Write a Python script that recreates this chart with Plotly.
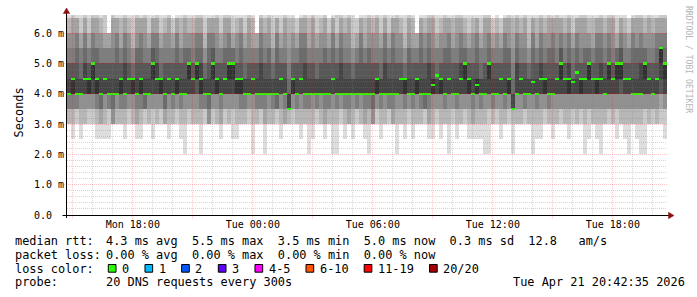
import math
import plotly.graph_objects as go
from datetime import datetime, timedelta

# ---------------- data ----------------
START = datetime(2026, 4, 20, 14, 42, 35)
END = datetime(2026, 4, 21, 20, 42, 35)
STEP_MIN = 12          # one column = 12 minutes
Y_MAX = 6.6            # ms, upper limit of graph

# median rtt per column (ms)
median_ms = [
    4.0, 4.5, 4.0, 4.0, 4.5, 4.5, 5.0, 4.5, 4.0, 4.5,
    4.0, 4.0, 4.0, 4.5, 4.0, 4.5, 4.5, 4.0, 4.5, 4.0,
    4.0, 5.0, 4.5, 4.5, 4.0, 4.5, 4.0, 4.5, 4.0, 4.0,
    5.0, 4.5, 5.0, 4.5, 4.0, 4.0, 5.0, 4.5, 4.0, 4.5,
    5.0, 5.0, 4.5, 4.5, 4.0, 4.0, 4.5, 4.0, 4.0, 4.0,
    4.0, 4.0, 4.0, 4.5, 4.0, 3.5, 4.5, 4.0, 4.5, 4.0,
    4.0, 4.0, 4.0, 4.0, 4.0, 4.0, 4.5, 4.0, 4.0, 4.0,
    4.0, 4.0, 4.0, 4.0, 4.0, 4.0, 4.0, 4.5, 4.0, 4.0,
    4.0, 4.0, 4.0, 4.5, 4.5, 4.0, 4.0, 4.5, 4.0, 4.0,
    4.0, 4.3, 4.6, 4.5, 4.0, 4.5, 4.0, 4.0, 4.5, 5.0,
    4.5, 4.0, 4.3, 4.0, 4.0, 5.0, 4.0, 4.0, 4.5, 4.0,
    4.5, 3.5, 4.0, 4.5, 4.0, 4.0, 4.4, 4.0, 4.5, 4.5,
    4.0, 4.0, 4.5, 5.0, 4.5, 4.5, 4.4, 4.7, 4.5, 4.5,
    5.0, 4.5, 4.5, 4.5, 4.0, 5.0, 4.5, 5.0, 5.0, 4.5,
    4.5, 4.0, 4.0, 4.0, 5.0, 4.5, 4.0, 4.5, 5.5, 5.0,
]

# 20 ping rtts per column, one character per ping (see PING_CODE)
PING_CODE = {'0': 2.0, '1': 2.5, '2': 3.0, '3': 3.5, '4': 4.0, '5': 4.5,
             '6': 5.0, '7': 5.5, '8': 6.0, '9': 6.5, 'x': 7.0}
pings = [
    "2223334444456678899x", "122333444455667899xx", "2233334444456788999x", "1223344444455677889x", "222334444556678899xx",
    "2233344444556677889x", "223334444566678899xx", "122333444455677899xx", "1222333444456678899x", "122334444555667788xx",
    "12333344444566778888", "222223344445667899xx", "2223344444456788999x", "2223334444556677899x", "122333444446678899xx",
    "2233344445556678899x", "2223344444555667789x", "122233444445677899xx", "1223334444556788999x", "223333344445667899xx",
    "2223344444456677889x", "1233344445667788999x", "222334444556678899xx", "2233344444555677889x", "2222333444456678899x",
    "122334444555667899xx", "22233344444566778899", "2233344444556788999x", "1223334444456677899x", "022334444445677899xx",
    "2233344445666778899x", "2223344445556678899x", "222334445566678899xx", "022333444456678899xx", "2233334444455667789x",
    "2222233444456788999x", "2233344445667788999x", "222334444455667899xx", "1222334444456677889x", "223334444555677899xx",
    "222334444566678899xx", "1233344445666777889x", "1223344444556678899x", "2223334444556788999x", "2223334444455677889x",
    "223334444445667899xx", "0223344445556677899x", "22233344444566778888", "223333444446678899xx", "0222334444456678899x",
    "222334444445677899xx", "2223334444455667789x", "2233333444456788999x", "1223344445556677889x", "222233444445667899xx",
    "2223333333344567899x", "2233344444556678899x", "22233344444566778899", "1223344445556788999x", "222333444446678899xx",
    "0223334444456677899x", "122334444445667899xx", "2233334444455677889x", "2223344444456678899x", "122233444445677899xx",
    "22233344444566778899", "0223344445556788999x", "022333444445667788xx", "223334444446678899xx", "1223334444456678899x",
    "222233444445667899xx", "1223344444455667789x", "22333344444566778899", "2223344444456788999x", "1222334444456677899x",
    "022333444445677899xx", "2222233444456678899x", "223334444455667899xx", "1223334444455677889x", "222334444446678899xx",
    "2233334444456677889x", "2222334444456788999x", "022334444445667899xx", "2223344445556678899x", "1223334444555667789x",
    "223334444445677899xx", "1223334444456677899x", "22233444445566778888", "2223334444456788999x", "2233333444456678899x",
    "122233444446678899xx", "122334444455667899xx", "2233344445555677889x", "1223344444556678899x", "222333444445677899xx",
    "0223344445556788999x", "2233344444456677899x", "122333444445667899xx", "222334444556678899xx", "2233344445666778899x",
    "1223344444556677889x", "1222334444456678899x", "1223344444556788999x", "1223334444455677889x", "022334444445667899xx",
    "023334444566678899xx", "22233344444566778899", "2233344444456678899x", "12233444455566778899", "2223334444456788999x",
    "223334444455677899xx", "0223333333344567899x", "222334444446678899xx", "2223344445556678899x", "223333444445667899xx",
    "2223344444455667789x", "0223344445556788999x", "1223334444456677899x", "122334444556678899xx", "2233344444556678899x",
    "222333444445677899xx", "1223344444456788999x", "222334444555667899xx", "2233344445667788999x", "2223344445556678899x",
    "122334444456678899xx", "2233344445555677889x", "2223344445556788999x", "223334444455667899xx", "022334444555677899xx",
    "1233344445666778899x", "2223344445556677899x", "1223344444556788999x", "022334444556678899xx", "2223344444456678899x",
    "223334444566678899xx", "222334444555667899xx", "1233344445666777889x", "2223344455667788999x", "1223344445556678899x",
    "02233444455566778899", "2223344444456788999x", "122334444445677899xx", "022334444446678899xx", "0233344445666778899x",
    "222334444555667899xx", "2233344444456678899x", "2223344445556788999x", "223344445677778899xx", "123334444566678899xx",
]

y_tick_vals = [0, 1, 2, 3, 4, 5, 6]
y_tick_text = ["0.0  ", "1.0 m", "2.0 m", "3.0 m", "4.0 m", "5.0 m", "6.0 m"]

legend_rtt = ["median rtt:", "4.3 ms avg  5.5 ms max  3.5 ms min  5.0 ms now  0.3 ms sd  12.8   am/s"]
legend_loss = ["packet loss:", "0.00 % avg  0.00 % max  0.00 % min  0.00 % now"]
loss_labels = ["0", "1", "2", "3", "4-5", "6-10", "11-19", "20/20"]
loss_colors = ["#26ff00", "#00b8ff", "#0059ff", "#5e00ff", "#ff00ff", "#ff5500", "#ff0000", "#a10000"]
probe_text = ["probe:", "20 DNS requests every 300s"]
stamp_text = "Tue Apr 21 20:42:35 2026"
credit_text = "RRDTOOL / TOBI OETIKER"
y_title = "Seconds"

# ---------------- geometry (pixels) ----------------
W, H = 697, 297
PL, PR, PT, PB = 67, 667, 15, 215
MONO = "DejaVu Sans Mono"
CW = 7.17  # legend char advance in px


def px_x(px):
    return (px - PL) / (PR - PL)


def px_y(py):
    return (PB - py) / (PB - PT)


def snap(p):
    return math.floor(p) + 0.5


assert len(pings) == len(median_ms)
cols = []
for s in pings:
    assert len(s) == 20, s
    cols.append(sorted(PING_CODE[c] for c in s))

n = len(cols)
times = [START + timedelta(minutes=STEP_MIN * i + STEP_MIN / 2) for i in range(n)]
bar_w = STEP_MIN * 60 * 1000
span_s = (END - START).total_seconds()

fig = go.Figure()

# smoke: layer k spans ping k .. ping 21-k, darker towards the middle
half = 10
for k in range(1, half + 1):
    lo = [c[k - 1] for c in cols]
    hi = [c[20 - k] for c in cols]
    g = int(190 / half * (half - k)) + 50
    fig.add_trace(go.Bar(
        x=times, y=[h - l for h, l in zip(hi, lo)], base=lo, width=bar_w,
        marker=dict(color=f"rgb({g},{g},{g})", line=dict(width=0)),
        hoverinfo="skip", showlegend=False))

# median, coloured by loss (0 loss -> green)
mh = 0.075
fig.add_trace(go.Bar(
    x=times, y=[mh] * n, base=[m - mh / 2 for m in median_ms], width=bar_w,
    marker=dict(color=loss_colors[0], line=dict(width=0)),
    hoverinfo="skip", showlegend=False))

shapes = []
DOT = "1px,1px"
MINOR = "rgba(128,128,128,0.32)"
MAJOR = "rgba(255,0,0,0.22)"

# vertical grid (hourly, red every 3 h)
t = START.replace(minute=0, second=0) + timedelta(hours=1)
while t < END:
    major = (t.hour % 3 == 0)
    xp = px_x(snap(PL + (t - START).total_seconds() / span_s * (PR - PL)))
    shapes.append(dict(type="line", xref="paper", yref="paper", x0=xp, x1=xp,
                       y0=px_y(219) if major else 0, y1=1, layer="above",
                       line=dict(color=MAJOR if major else MINOR, width=1, dash=DOT)))
    t += timedelta(hours=1)

# horizontal grid (0.2 ms, red every 1 ms)
for j in range(1, int(Y_MAX / 0.2) + 1):
    v = round(j * 0.2, 2)
    if v >= Y_MAX:
        break
    major = (j % 5 == 0)
    yp = px_y(snap(PB - v / Y_MAX * (PB - PT)))
    shapes.append(dict(type="line", xref="paper", yref="paper", x0=px_x(64) if major else 0, x1=1,
                       y0=yp, y1=yp, layer="above",
                       line=dict(color=MAJOR if major else MINOR, width=1, dash=DOT)))

# axes lines
shapes.append(dict(type="line", xref="paper", yref="paper", x0=px_x(62.5), x1=px_x(670),
                   y0=px_y(215.5), y1=px_y(215.5), layer="above", line=dict(color="#000", width=1)))
shapes.append(dict(type="line", xref="paper", yref="paper", x0=px_x(66.5), x1=px_x(66.5),
                   y0=px_y(218), y1=px_y(12), layer="above", line=dict(color="#000", width=1)))
ARROW = "#8b1010"


def path(points):
    return "M " + " L ".join(f"{px_x(a):.5f},{px_y(b):.5f}" for a, b in points) + " Z"


shapes.append(dict(type="path", xref="paper", yref="paper", layer="above",
                   path=path([(66.5, 8), (63.3, 13.5), (69.7, 13.5)]),
                   fillcolor=ARROW, line=dict(color=ARROW, width=0.5)))
shapes.append(dict(type="path", xref="paper", yref="paper", layer="above",
                   path=path([(674, 215.5), (668.5, 212.3), (668.5, 218.7)]),
                   fillcolor=ARROW, line=dict(color=ARROW, width=0.5)))

annotations = []


def text(px, py, s, size=11.9, color="#000", xanchor="left", angle=0):
    annotations.append(dict(
        x=px_x(px), y=px_y(py), xref="paper", yref="paper",
        text=s.replace(" ", "\u00a0"), showarrow=False,
        xanchor=xanchor, yanchor="middle", textangle=angle,
        borderpad=0, borderwidth=0,
        font=dict(family=MONO, size=size, color=color)))


L1, L2, L3, L4 = 241, 254.5, 268.5, 282.3
X0, X1 = 15.4, 106.4
text(X0, L1, legend_rtt[0]); text(X1, L1, legend_rtt[1])
text(X0, L2, legend_loss[0]); text(X1, L2, legend_loss[1])
text(X0, L3, "loss color:")
sx = 108.3
for lab, col in zip(loss_labels, loss_colors):
    shapes.append(dict(type="rect", xref="paper", yref="paper", layer="above",
                       x0=px_x(sx), x1=px_x(sx + 7.7), y0=px_y(264.5), y1=px_y(272.2),
                       fillcolor=col, line=dict(color="#000", width=1)))
    lx = sx + 14.3
    text(lx - 0.6, L3, lab)
    sx = lx + len(lab) * CW + 15.2
text(X0, L4, probe_text[0]); text(X1, L4, probe_text[1])
text(512.7, L4, stamp_text)
text(11, 112.5, y_title, angle=-90)
text(689, 59, credit_text, size=8.1, color="#b4b4b4", xanchor="center", angle=90)

fig.update_layout(
    width=W, height=H,
    margin=dict(l=PL, r=W - PR, t=PT, b=H - PB, pad=0),
    paper_bgcolor="#ffffff", plot_bgcolor="#ffffff",
    barmode="overlay", bargap=0, showlegend=False,
    font=dict(family=MONO, size=10, color="#000"),
    shapes=shapes, annotations=annotations, hovermode=False,
    xaxis=dict(type="date", range=[START, END], tick0="2026-04-20 18:00:00",
               dtick=6 * 3600 * 1000, tickformat="%a %H:%M", showgrid=False,
               zeroline=False, showline=False, ticks="", automargin=False,
               ticklabelstandoff=2,
               tickfont=dict(family=MONO, size=10, color="#000")),
    yaxis=dict(range=[0, Y_MAX], tickvals=y_tick_vals,
               ticktext=[s.replace(" ", "\u00a0") for s in y_tick_text],
               showgrid=False, zeroline=False, showline=False, ticks="",
               automargin=False, ticklabelstandoff=2,
               tickfont=dict(family=MONO, size=10, color="#000")),
)

fig.write_html("out.html", config={"displayModeBar": False})
